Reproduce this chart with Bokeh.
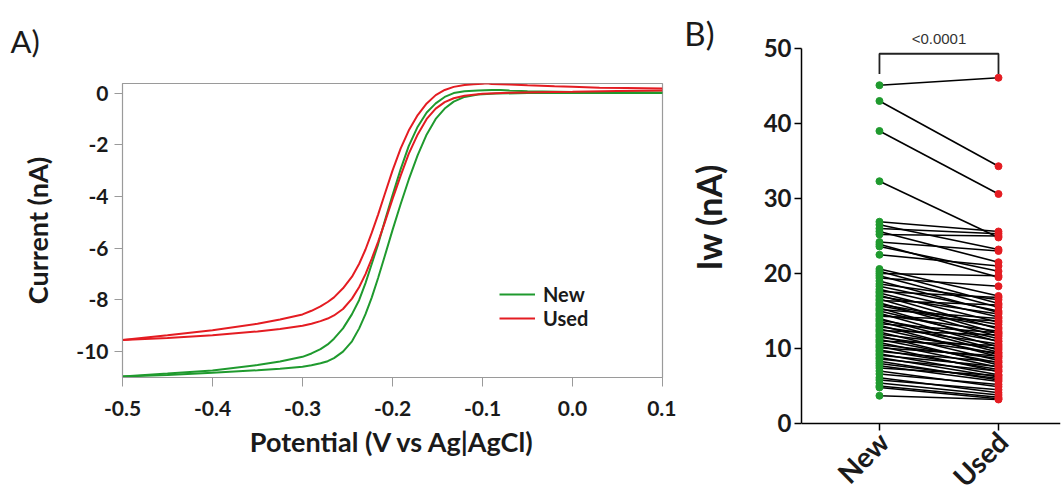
import math
from bokeh.plotting import figure
from bokeh.models import (FixedTicker, PrintfTickFormatter, Label, Legend, LegendItem, Range1d,
                          Title, LinearAxis)
from bokeh.layouts import row
from bokeh.core.properties import value
from bokeh.embed import file_html
from bokeh.resources import INLINE

FONT = "Lato"

# ---------------- Panel A data (voltammograms) ----------------
x_new_fwd = [-0.500, -0.450, -0.400, -0.350, -0.325, -0.300, -0.290, -0.280, -0.272, -0.265, -0.255, -0.245,
             -0.237, -0.230, -0.223, -0.216, -0.209, -0.200, -0.191, -0.182, -0.172, -0.162, -0.152, -0.142,
             -0.132, -0.120, -0.105, -0.085, -0.050, 0.000, 0.050, 0.100]
y_new_fwd = [-10.96, -10.90, -10.82, -10.72, -10.66, -10.58, -10.53, -10.45, -10.37, -10.25, -10.00, -9.60,
             -9.10, -8.55, -7.90, -7.15, -6.35, -5.30, -4.30, -3.35, -2.40, -1.60, -1.00, -0.60,
             -0.33, -0.15, -0.06, -0.02, 0.00, 0.00, 0.00, 0.00]

x_new_rev = [-0.500, -0.450, -0.400, -0.350, -0.325, -0.300, -0.290, -0.280, -0.272, -0.265, -0.255, -0.245,
             -0.237, -0.230, -0.223, -0.216, -0.209, -0.200, -0.191, -0.182, -0.172, -0.162, -0.152, -0.142,
             -0.132, -0.120, -0.105, -0.090, -0.080, -0.070, -0.050, 0.000, 0.050, 0.100]
y_new_rev = [-10.96, -10.85, -10.73, -10.52, -10.38, -10.20, -10.07, -9.90, -9.72, -9.50, -9.10, -8.55,
             -8.00, -7.35, -6.60, -5.85, -5.00, -3.95, -2.95, -2.05, -1.30, -0.75, -0.40, -0.15,
             0.00, 0.07, 0.10, 0.12, 0.12, 0.10, 0.07, 0.04, 0.03, 0.02]

x_used_fwd = [-0.500, -0.450, -0.400, -0.350, -0.325, -0.300, -0.290, -0.280, -0.272, -0.265, -0.255, -0.245,
              -0.237, -0.230, -0.223, -0.216, -0.209, -0.200, -0.191, -0.182, -0.172, -0.162, -0.152, -0.142,
              -0.132, -0.120, -0.100, -0.070, -0.040, 0.000, 0.050, 0.100]
y_used_fwd = [-9.55, -9.47, -9.37, -9.22, -9.12, -9.00, -8.92, -8.82, -8.72, -8.60, -8.35, -7.95,
              -7.50, -7.00, -6.40, -5.75, -5.05, -4.10, -3.20, -2.35, -1.60, -1.00, -0.60, -0.35,
              -0.20, -0.10, -0.03, 0.01, 0.03, 0.05, 0.08, 0.10]

x_used_rev = [-0.500, -0.450, -0.400, -0.350, -0.325, -0.300, -0.290, -0.280, -0.272, -0.265, -0.255, -0.245,
              -0.237, -0.230, -0.223, -0.216, -0.209, -0.200, -0.191, -0.182, -0.172, -0.162, -0.152, -0.142,
              -0.132, -0.120, -0.110, -0.100, -0.095, -0.090, -0.070, -0.050, -0.020, 0.000, 0.030, 0.060,
              0.100]
y_used_rev = [-9.55, -9.37, -9.17, -8.92, -8.76, -8.56, -8.42, -8.25, -8.08, -7.90, -7.55, -7.10,
              -6.60, -6.05, -5.40, -4.70, -3.95, -3.00, -2.15, -1.45, -0.85, -0.40, -0.08, 0.12,
              0.24, 0.31, 0.34, 0.36, 0.38, 0.35, 0.33, 0.30, 0.26, 0.24, 0.21, 0.20,
              0.18]

x_ticks_a = [-0.5, -0.4, -0.3, -0.2, -0.1, 0.0, 0.1]
y_ticks_a = [-10, -8, -6, -4, -2, 0]
series_names = ["New", "Used"]

# ---------------- Panel B data (paired Iw) ----------------
categories = ["New", "Used"]
iw_new = [45.1, 43.0, 39.0, 32.3, 26.9, 26.5, 26.0, 25.6, 25.2, 24.2, 23.9, 23.6, 22.5, 20.6, 20.3, 20.0,
          19.7, 19.4, 19.0, 18.6, 18.3, 17.9, 17.6, 17.4, 17.1, 16.9, 16.6, 16.4, 16.1, 15.9, 15.7, 15.4,
          15.2, 15.0, 14.7, 14.5, 14.3, 14.0, 13.8, 13.6, 13.3, 13.1, 12.9, 12.6, 12.4, 12.2, 11.9, 11.7,
          11.5, 11.2, 11.0, 10.8, 10.5, 10.3, 10.1, 9.8, 9.6, 9.3, 9.1, 8.8, 8.6, 8.3, 8.0, 7.7,
          7.4, 7.0, 6.6, 6.1, 5.8, 5.4, 5.0, 4.8, 3.7]
iw_used = [46.1, 34.3, 30.6, 24.8, 25.6, 23.2, 25.3, 21.5, 25.0, 23.0, 19.5, 20.3, 21.0, 17.0, 16.0, 19.7,
           15.5, 18.3, 14.8, 16.5, 15.0, 14.2, 16.8, 13.5, 12.6, 14.6, 12.0, 15.8, 11.6, 13.2, 12.8, 10.9,
           14.0, 11.3, 10.2, 12.3, 13.7, 9.8, 11.0, 9.5, 12.1, 8.9, 10.6, 9.2, 11.8, 8.4, 10.0, 7.8,
           9.4, 8.1, 10.4, 7.5, 8.7, 6.9, 9.0, 7.2, 8.2, 6.5, 7.6, 6.2, 7.0, 5.8, 6.0, 5.6,
           6.4, 4.9, 5.2, 4.1, 4.5, 3.8, 3.5, 3.3, 3.2]
y_ticks_b = [0, 10, 20, 30, 40, 50]
y_title_b = "Iw (nA)"
p_text = "<0.0001"
p_text_y = 51.3
bracket_low, bracket_high = 46.6, 49.3
panel_b_tag_y = 52
y_title_b_at = 27.5

GREEN = "#1f9a2e"
RED = "#e41c22"
GRAY = "#9a9a9a"
TXT = "#1a1a1a"

# ---------------- Panel A ----------------
pA = figure(width=676, height=494, x_range=Range1d(-0.5, 0.1), y_range=Range1d(-11.0, 0.37),
            output_backend="svg", toolbar_location=None, frame_align=False,
            min_border_left=122, min_border_right=14, min_border_top=81, min_border_bottom=117)
pA.grid.visible = False
pA.outline_line_color = GRAY
pA.outline_line_width = 1.2
pA.title = Title(text="A)", align="left", offset=-112, standoff=43, vertical_align="top",
                 text_font=FONT, text_font_size="31px", text_font_style="normal", text_color=TXT)

rg = pA.multi_line(xs=[x_new_fwd, x_new_rev], ys=[y_new_fwd, y_new_rev], line_color=GREEN, line_width=2)
rr = pA.multi_line(xs=[x_used_fwd, x_used_rev], ys=[y_used_fwd, y_used_rev], line_color=RED, line_width=2)

legend = Legend(items=[LegendItem(label=series_names[0], renderers=[rg]),
                       LegendItem(label=series_names[1], renderers=[rr])],
                location=(377, 47), border_line_color=None, background_fill_alpha=0,
                padding=0, margin=0, spacing=0, glyph_width=36, glyph_height=20, label_height=20,
                label_standoff=8, label_text_font=FONT, label_text_font_style="bold",
                label_text_font_size="20px", label_text_color=TXT)
pA.add_layout(legend)

for ax in (pA.xaxis[0], pA.yaxis[0]):
    ax.axis_line_color = GRAY
    ax.major_tick_line_color = GRAY
    ax.minor_tick_line_color = None
    ax.major_tick_in = 0
    ax.major_label_text_font = FONT
    ax.major_label_text_font_style = "bold"
    ax.major_label_text_font_size = "21px"
    ax.major_label_text_color = TXT
    ax.axis_label_text_font = FONT
    ax.axis_label_text_font_style = "bold"
    ax.axis_label_text_font_size = "27px"
    ax.axis_label_text_color = TXT

pA.xaxis.ticker = FixedTicker(ticks=x_ticks_a)
pA.xaxis.formatter = PrintfTickFormatter(format="%.1f")
pA.xaxis.major_tick_out = 9
pA.xaxis.major_label_standoff = 14
pA.xaxis.axis_label = "Potential (V vs Ag|AgCl)"
pA.xaxis.axis_label_standoff = 6

pA.yaxis.ticker = FixedTicker(ticks=y_ticks_a)
pA.yaxis.formatter = PrintfTickFormatter(format="%d")
pA.yaxis.major_tick_out = 8
pA.yaxis.major_label_standoff = 6
pA.yaxis.axis_label = "Current (nA)"
pA.yaxis.axis_label_standoff = 19

# ---------------- Panel B ----------------
# frame fills the canvas height; the x axis is drawn at Iw = 0
pB = figure(width=386, height=494, x_range=Range1d(-0.655, 1.521), y_range=Range1d(-9.467, 56.0),
            output_backend="svg", toolbar_location=None, frame_align=False, x_axis_location=None,
            min_border_left=125, min_border_right=2, min_border_top=3, min_border_bottom=0)
pB.grid.visible = False
pB.outline_line_color = None

cat_idx = list(range(len(categories)))
xs_pairs = [[cat_idx[0], cat_idx[1]] for _ in iw_new]
ys_pairs = [[a, b] for a, b in zip(iw_new, iw_used)]
pB.multi_line(xs=xs_pairs, ys=ys_pairs, line_color="black", line_width=1.6)
pB.scatter(x=[cat_idx[0]] * len(iw_new), y=iw_new, size=7, fill_color=GREEN, line_color=GREEN)
pB.scatter(x=[cat_idx[1]] * len(iw_used), y=iw_used, size=7, fill_color=RED, line_color=RED)

pB.line(x=[cat_idx[0], cat_idx[0], cat_idx[1], cat_idx[1]],
        y=[bracket_low, bracket_high, bracket_high, bracket_low],
        line_color="#222222", line_width=1.8)
pB.add_layout(Label(x=0.5, y=p_text_y, text=p_text, text_font="Liberation Sans",
                    text_font_size="15px", text_color="#333333",
                    text_align="center", text_baseline="middle"))

# x axis line + ticks at Iw = 0
xb = LinearAxis(fixed_location=0, ticker=FixedTicker(ticks=cat_idx),
                major_label_overrides={i: "" for i in cat_idx},
                major_label_text_font_size="1px", major_label_standoff=0,
                axis_line_color="black", axis_line_width=1.5,
                major_tick_line_color="black", major_tick_line_width=1.5,
                major_tick_in=7, major_tick_out=0, minor_tick_line_color=None)
pB.add_layout(xb, "above")

# rotated category labels
pB.text(x=cat_idx, y=[0] * len(cat_idx), text=categories, angle=math.pi / 4,
        text_align="right", text_baseline="middle", x_offset=4, y_offset=13,
        text_font=value(FONT), text_font_style="bold", text_font_size=value("28px"),
        text_color=TXT)

yb = pB.yaxis[0]
yb.ticker = FixedTicker(ticks=y_ticks_b)
yb.bounds = (0, 50)
yb.axis_line_color = "black"
yb.axis_line_width = 1.5
yb.major_tick_line_color = "black"
yb.major_tick_line_width = 1.5
yb.minor_tick_line_color = None
yb.major_tick_in = 0
yb.major_tick_out = 7
yb.major_label_standoff = 3
yb.major_label_text_font = FONT
yb.major_label_text_font_style = "bold"
yb.major_label_text_font_size = "24px"
yb.major_label_text_color = TXT

# y title drawn as the single label of an extra line-less axis (centred at the reference height)
title_axis = LinearAxis(ticker=FixedTicker(ticks=[y_title_b_at]),
                        major_label_overrides={y_title_b_at: y_title_b},
                        major_label_orientation="vertical",
                        axis_line_color=None, major_tick_line_color=None, minor_tick_line_color=None,
                        major_tick_in=0, major_tick_out=0, major_label_standoff=31,
                        major_label_text_font=FONT, major_label_text_font_size="34px",
                        major_label_text_font_style="bold", major_label_text_color=TXT)
pB.add_layout(title_axis, "left")

# panel tag "B)" drawn as the single label of another line-less left axis
tag_axis = LinearAxis(ticker=FixedTicker(ticks=[panel_b_tag_y]),
                      major_label_overrides={panel_b_tag_y: "B)"},
                      axis_line_color=None, major_tick_line_color=None, minor_tick_line_color=None,
                      major_tick_in=0, major_tick_out=0, major_label_standoff=-29,
                      major_label_text_font=FONT, major_label_text_font_size="33px",
                      major_label_text_font_style="normal", major_label_text_color=TXT)
pB.add_layout(tag_axis, "left")

layout = row(pA, pB)
open("out.html", "w").write(file_html(layout, INLINE))
